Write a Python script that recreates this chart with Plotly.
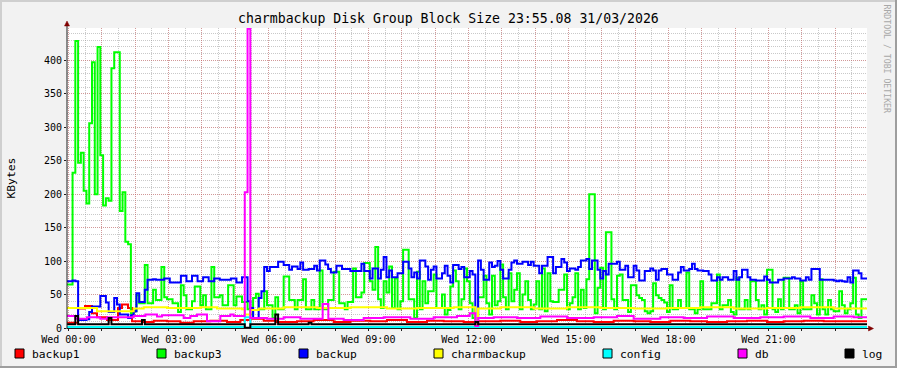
import plotly.graph_objects as go

# ---------------- data ----------------
START_HOUR = -0.04          # graph window starts just before Wed 00:00
STEP_HOURS = 5 / 60         # 5-minute RRD step
SPAN_HOURS = 24

# backup3 (green), one value per 5-minute step, 12 values per hour
backup3 = [
    65, 65, 232, 429, 247, 262, 205, 186, 306, 397, 200, 420,
    258, 183, 194, 190, 388, 412, 412, 175, 203, 129, 125, 22,
    25, 49, 37, 37, 94, 37, 37, 57, 42, 42, 91, 46,
    43, 43, 37, 37, 24, 64, 49, 28, 28, 40, 62, 62,
    34, 49, 28, 28, 91, 46, 46, 49, 34, 34, 64, 64,
    34, 47, 47, 39, 39, 28, 20, 45, 51, 28, 28, 55,
    34, 34, 15, 46, 28, 28, 77, 77, 42, 42, 28, 42,
    42, 73, 28, 28, 42, 28, 28, 86, 28, 28, 42, 42,
    84, 84, 37, 37, 28, 39, 39, 89, 46, 46, 53, 97,
    97, 70, 57, 121, 43, 30, 70, 53, 92, 30, 74, 28,
    40, 117, 117, 43, 43, 15, 84, 28, 70, 37, 55, 55,
    80, 30, 30, 50, 20, 27, 62, 86, 70, 28, 43, 89,
    70, 37, 15, 5, 46, 46, 78, 37, 20, 78, 34, 40,
    95, 46, 28, 82, 40, 57, 82, 28, 50, 70, 42, 28,
    35, 70, 28, 89, 25, 82, 40, 39, 39, 57, 57, 80,
    28, 37, 46, 82, 28, 57, 30, 73, 200, 200, 22, 60,
    90, 28, 143, 143, 43, 28, 78, 80, 42, 42, 24, 64,
    64, 49, 45, 42, 25, 22, 25, 67, 49, 45, 42, 38,
    24, 64, 28, 28, 42, 30, 30, 83, 28, 28, 22, 28,
    70, 28, 28, 28, 37, 37, 80, 28, 34, 34, 42, 24,
    20, 75, 28, 28, 42, 28, 70, 70, 42, 28, 34, 20,
    87, 87, 28, 24, 43, 28, 75, 75, 28, 28, 34, 22,
    70, 28, 28, 28, 49, 37, 20, 73, 28, 20, 42, 28,
    25, 25, 55, 34, 22, 28, 37, 75, 20, 15, 43, 43,
]

# backup (blue), one value per 5-minute step
backup = [
    70, 70, 71, 70, 12, 12, 12, 13, 24, 32, 32, 32,
    48, 48, 38, 24, 24, 45, 35, 20, 20, 20, 15, 19,
    25, 52, 39, 39, 57, 72, 72, 73, 72, 72, 72, 74,
    74, 68, 68, 68, 68, 78, 78, 70, 70, 78, 78, 70,
    70, 76, 76, 70, 70, 74, 74, 72, 72, 72, 72, 74,
    74, 68, 68, 76, 76, 40, 30, 15, 15, 45, 55, 91,
    85, 91, 91, 91, 99, 99, 94, 94, 87, 92, 92, 88,
    98, 87, 87, 88, 88, 93, 86, 101, 101, 95, 88, 83,
    83, 93, 93, 88, 88, 88, 85, 85, 85, 85, 96, 85,
    85, 74, 89, 89, 74, 87, 106, 76, 86, 76, 76, 82,
    82, 99, 99, 89, 76, 83, 74, 101, 101, 92, 72, 87,
    92, 74, 74, 82, 93, 78, 68, 94, 94, 88, 91, 76,
    76, 85, 80, 2, 101, 87, 72, 72, 98, 91, 93, 100,
    87, 74, 74, 87, 98, 101, 96, 96, 99, 99, 94, 99,
    93, 93, 82, 93, 93, 106, 106, 82, 91, 91, 103, 98,
    85, 89, 89, 87, 91, 101, 101, 103, 88, 101, 101, 87,
    74, 85, 80, 96, 96, 96, 99, 87, 87, 93, 76, 76,
    93, 86, 71, 71, 85, 85, 89, 86, 72, 86, 88, 88,
    80, 80, 72, 72, 83, 91, 86, 86, 88, 96, 88, 86,
    86, 85, 85, 80, 71, 71, 76, 72, 76, 76, 72, 72,
    85, 72, 76, 87, 87, 76, 72, 72, 71, 71, 71, 77,
    72, 68, 68, 68, 72, 72, 74, 74, 74, 76, 74, 74,
    71, 71, 76, 72, 88, 88, 88, 72, 72, 72, 72, 72,
    71, 70, 71, 70, 69, 76, 68, 86, 86, 82, 74, 74,
]

# slowly varying series: change points (hours after window start) and values
backup1_hours = [0, 0.33, 0.54, 0.75, 0.9, 1.2, 1.53, 1.65, 1.83, 1.95,
                 2.25, 2.6, 3.0, 3.4, 3.8, 4.3, 4.8, 5.2, 5.5, 5.9,
                 6.3, 6.9, 7.4, 8.0, 8.5, 9.1, 9.6, 10.2, 10.8, 11.3,
                 11.9, 12.25, 12.33, 13.0, 13.6, 14.1, 14.7, 15.3, 15.8, 16.4,
                 17.0, 17.5, 18.1, 18.7, 19.2, 19.8, 20.4, 21.0, 21.5, 22.1,
                 22.7, 23.2]
backup1_kb = [8, 29, 33, 22, 16, 12, 30, 35, 30, 10,
              9, 11, 10, 8, 10, 11, 9, 12, 14, 11,
              9, 10, 12, 9, 11, 10, 12, 9, 11, 10,
              9, 2, 10, 11, 9, 10, 12, 10, 9, 11,
              10, 9, 11, 10, 9, 10, 11, 9, 10, 11,
              10, 10]

charmbackup_hours = [0, 0.9, 2.0, 2.3, 3.0, 4.0, 4.5, 5.25, 5.33, 5.5,
                     5.75, 6.5, 7.5, 8.5, 9.6, 10.5, 11.6, 12.25, 12.33, 13.0,
                     14.0, 15.0, 16.0, 17.0, 18.0, 19.0, 20.0, 21.0, 22.0, 23.0]
charmbackup_kb = [30, 25, 29, 31, 30, 31, 29, 28, 20, 27,
                  29, 31, 30, 31, 29, 30, 31, 4, 29, 31,
                  29, 31, 30, 29, 30, 31, 29, 30, 31, 29]

config_hours = [0, 5.333, 5.5]
config_kb = [1.5, 16, 1.5]

db_hours = [0, 0.25, 0.6, 1.0, 1.2, 2.0, 2.35, 2.7, 2.85, 3.5,
            3.7, 3.9, 4.2, 4.6, 4.9, 5.0, 5.333, 5.4167, 5.5, 6.0,
            6.5, 7.0, 7.67, 7.84, 8.3, 8.9, 9.5, 10.3, 11.0, 11.7,
            12.083, 12.25, 12.333, 12.8, 13.5, 14.2, 15.0, 15.8, 16.5, 17.0,
            17.8, 18.5, 19.2, 20.0, 20.8, 21.5, 22.3, 23.0, 23.6]
db_kb = [18, 14, 16, 14, 16, 18, 20, 17, 19, 15,
         18, 20, 10, 18, 20, 18, 203, 447, 15, 14,
         16, 14, 36, 14, 12, 15, 16, 14, 16, 18,
         22, 3, 15, 16, 15, 17, 15, 16, 18, 14,
         16, 15, 17, 15, 16, 17, 15, 17, 16]

log_hours = [0, 0.25, 0.333, 1.25, 1.333, 2.25, 2.333, 5.333, 5.5,
             6.25, 6.333, 7.25, 7.333, 12.25, 12.333]
log_kb = [5.5, 18, 5.5, 15, 5.5, 12, 5.5, 0.5, 5.5,
          20, 5.5, 8, 5.5, 9, 5.5]

series_names = ["backup1", "backup3", "backup", "charmbackup", "config", "db", "log"]
series_colors = ["#FF0000", "#00FF00", "#0000FF", "#FFFF00", "#00FFFF", "#FF00FF", "#000000"]

hour_ticks = [0, 1, 2, 3, 4, 5, 6, 7, 8, 9, 10, 11, 12, 13, 14, 15, 16, 17, 18, 19, 20, 21, 22, 23]
hour_labels = ["Wed 00:00", "", "", "Wed 03:00", "", "", "Wed 06:00", "", "",
               "Wed 09:00", "", "", "Wed 12:00", "", "", "Wed 15:00", "", "",
               "Wed 18:00", "", "", "Wed 21:00", "", ""]
kb_ticks = [0, 50, 100, 150, 200, 250, 300, 350, 400]
kb_labels = ["0", "50", "100", "150", "200", "250", "300", "350", "400"]

TITLE = "charmbackup Disk Group Block Size 23:55.08 31/03/2026"
Y_TITLE = "KBytes"
WATERMARK = "RRDTOOL / TOBI OETIKER"
Y_MAX = 448.3

# ---------------- figure ----------------
END_HOUR = START_HOUR + SPAN_HOURS


def regular_series(vals):
    xs = [START_HOUR + k * STEP_HOURS for k in range(len(vals) + 1)]
    return xs, list(vals) + [vals[-1]]


def changepoint_series(hours, vals):
    xs = [START_HOUR + h for h in hours] + [END_HOUR]
    return xs, list(vals) + [vals[-1]]


data_xy = [
    changepoint_series(backup1_hours, backup1_kb),
    regular_series(backup3),
    regular_series(backup),
    changepoint_series(charmbackup_hours, charmbackup_kb),
    changepoint_series(config_hours, config_kb),
    changepoint_series(db_hours, db_kb),
    changepoint_series(log_hours, log_kb),
]

fig = go.Figure()
for (xs, ys), name, color in zip(data_xy, series_names, series_colors):
    fig.add_trace(go.Scatter(x=xs, y=ys, name=name, mode="lines",
                             line=dict(color=color, width=2, shape="hv"),
                             hoverinfo="skip"))

W, H = 897, 368
ML, MR, MT, MB = 67, 30, 28, 40
PW = W - ML - MR
PH = H - MT - MB


def fx(px):
    return (px - ML) / PW


def fy(py):
    return (H - MB - py) / PH


FONT = "DejaVu Sans Mono"
GRID = "rgba(143,143,143,0.48)"
MGRID = "rgba(222,79,79,0.40)"
AXIS = "#1F1F1F"
ARROW = "#800000"

shapes = []
# 3D-ish frame
shapes.append(dict(type="line", xref="paper", yref="paper", x0=fx(0), x1=fx(W), y0=fy(1), y1=fy(1),
                   line=dict(color="#CFCFCF", width=2)))
shapes.append(dict(type="line", xref="paper", yref="paper", x0=fx(1), x1=fx(1), y0=fy(0), y1=fy(H),
                   line=dict(color="#CFCFCF", width=2)))
shapes.append(dict(type="line", xref="paper", yref="paper", x0=fx(0), x1=fx(W), y0=fy(H - 1), y1=fy(H - 1),
                   line=dict(color="#9E9E9E", width=2)))
shapes.append(dict(type="line", xref="paper", yref="paper", x0=fx(W - 1), x1=fx(W - 1), y0=fy(0), y1=fy(H),
                   line=dict(color="#9E9E9E", width=2)))
# axes
shapes.append(dict(type="line", xref="paper", yref="paper", x0=fx(67), x1=fx(67), y0=fy(328.5), y1=fy(24),
                   line=dict(color=AXIS, width=1), layer="above"))
shapes.append(dict(type="line", xref="paper", yref="paper", x0=fx(66.5), x1=fx(870), y0=fy(328.5), y1=fy(328.5),
                   line=dict(color=AXIS, width=1), layer="above"))
# arrows
shapes.append(dict(type="path", xref="paper", yref="paper",
                   path="M %f,%f L %f,%f L %f,%f Z" % (fx(64.5), fy(26), fx(69.5), fy(26), fx(67), fy(21)),
                   fillcolor=ARROW, line=dict(color=ARROW, width=0.5), layer="above"))
shapes.append(dict(type="path", xref="paper", yref="paper",
                   path="M %f,%f L %f,%f L %f,%f Z" % (fx(868.5), fy(326), fx(868.5), fy(331), fx(873.5), fy(328.5)),
                   fillcolor=ARROW, line=dict(color=ARROW, width=0.5), layer="above"))

annotations = []
annotations.append(dict(text=TITLE, xref="paper", yref="paper", x=fx(448.5), y=fy(19),
                        xanchor="center", yanchor="middle", showarrow=False,
                        font=dict(family=FONT, size=13.2, color="black")))
annotations.append(dict(text=Y_TITLE, xref="paper", yref="paper", x=fx(11), y=fy(177.5),
                        xanchor="center", yanchor="middle", showarrow=False, textangle=-90,
                        font=dict(family=FONT, size=11.3, color="black")))
annotations.append(dict(text=WATERMARK, xref="paper", yref="paper", x=fx(886.5), y=fy(59),
                        xanchor="center", yanchor="middle", showarrow=False, textangle=90,
                        font=dict(family=FONT, size=8.2, color="#A8A8A8")))

legend_square_left = [15, 157, 299, 434, 603, 738, 845]
for left, name, color in zip(legend_square_left, series_names, series_colors):
    shapes.append(dict(type="rect", xref="paper", yref="paper",
                       x0=fx(left), x1=fx(left + 9), y0=fy(349), y1=fy(358),
                       fillcolor=color, line=dict(color="black", width=1)))
    annotations.append(dict(text=name, xref="paper", yref="paper", x=fx(left + 15), y=fy(354),
                            xanchor="left", yanchor="middle", showarrow=False,
                            font=dict(family=FONT, size=11.3, color="black")))

fig.update_layout(
    width=W, height=H,
    margin=dict(l=ML, r=MR, t=MT, b=MB, autoexpand=False),
    paper_bgcolor="#F2F2F2",
    plot_bgcolor="#FFFFFF",
    showlegend=False,
    shapes=shapes,
    annotations=annotations,
    xaxis=dict(range=[START_HOUR, END_HOUR], tickmode="array", tickvals=hour_ticks, ticktext=hour_labels,
               showgrid=True, gridcolor=MGRID, gridwidth=1, griddash="1px,1px",
               minor=dict(tick0=0, dtick=0.5, showgrid=True, gridcolor=GRID, gridwidth=1,
                          griddash="1px,1px", ticks=""),
               ticks="outside", ticklen=2, tickcolor=AXIS, showline=False, zeroline=False,
               tickfont=dict(family=FONT, size=10, color="black"), fixedrange=True),
    yaxis=dict(range=[0, Y_MAX], tickmode="array", tickvals=kb_ticks, ticktext=kb_labels,
               showgrid=True, gridcolor=MGRID, gridwidth=1, griddash="1px,1px",
               minor=dict(tick0=0, dtick=10, showgrid=True, gridcolor=GRID, gridwidth=1,
                          griddash="1px,1px", ticks=""),
               ticks="outside", ticklen=2, tickcolor=AXIS, showline=False, zeroline=False,
               tickfont=dict(family=FONT, size=10, color="black"), fixedrange=True),
)

fig.write_html("out.html", config={"displayModeBar": False},
               post_script="document.body.style.margin='0px';document.body.style.overflow='hidden';")
